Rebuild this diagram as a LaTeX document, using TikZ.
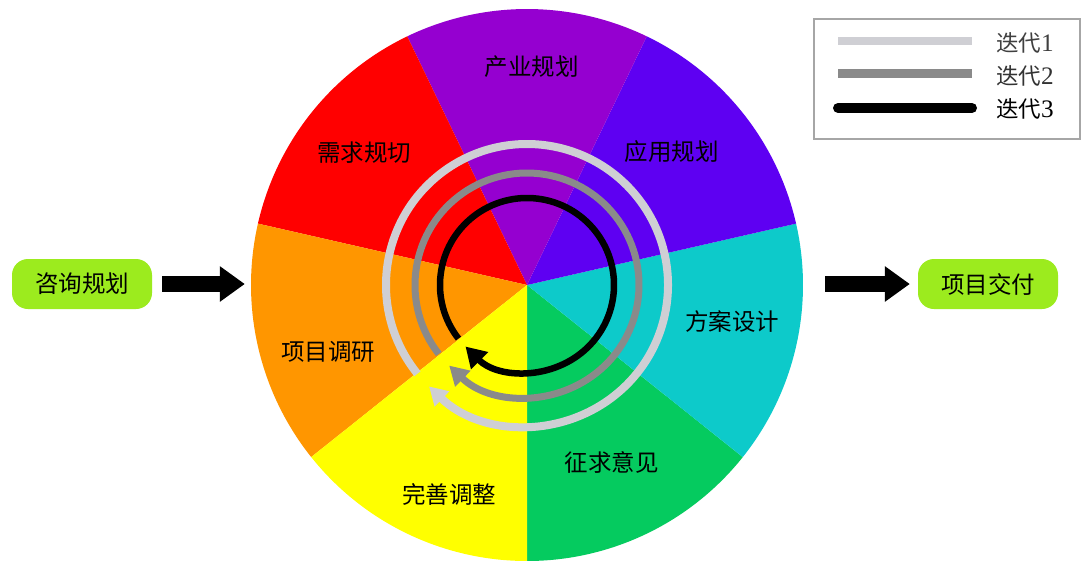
\documentclass[tikz,border=0pt]{standalone}
\usepackage{fontspec}
\setmainfont{Noto Sans CJK SC}
\newfontfamily\digitfont[Scale=1.12]{Liberation Serif}
\usetikzlibrary{arrows.meta}
\definecolor{cRed}{HTML}{FF0000}
\definecolor{cOrange}{HTML}{FF9600}
\definecolor{cYellow}{HTML}{FFFF00}
\definecolor{cGreen}{HTML}{05CB5F}
\definecolor{cCyan}{HTML}{0DCACA}
\definecolor{cViolet}{HTML}{5E00F2}
\definecolor{cPurple}{HTML}{9500D0}
\definecolor{cLime}{HTML}{9CEB1E}
\definecolor{ringLight}{HTML}{CFCFD4}
\definecolor{ringGray}{HTML}{8A8A8A}
\tikzset{
  lbl/.style={font=\fontsize{23.5}{26}\selectfont, inner sep=0pt, text=black},
  limebox/.style={fill=cLime, rounded corners=16pt, minimum width=140pt, minimum height=50pt, inner sep=0pt, font=\fontsize{23.5}{26}\selectfont},
  bigarrow/.style={line width=16pt, -{Triangle[length=25pt,width=34pt]}},
  legtext/.style={font=\fontsize{22.5}{25}\selectfont, anchor=west, inner sep=0pt},
}
\begin{document}
\begin{tikzpicture}[x=1pt,y=1pt]
\useasboundingbox (0,0) rectangle (1081,-560);
\fill[white] (0,0) rectangle (1081,-560);
\coordinate (c) at (527,-285);
\node[circle, minimum size=552pt, inner sep=0pt] (wheel) at (c) {};
% sectors (equal, 360/7)
\def\R{276}
\foreach \a/\col in {270/cGreen, 321.4286/cCyan, 12.8571/cViolet, 64.2857/cPurple, 115.7143/cRed, 167.1429/cOrange, 218.5714/cYellow}{
  \fill[\col] (c) -- ++(\a:\R) arc[start angle=\a, delta angle=51.4286, radius=\R] -- cycle;
}
% rings
\draw[ringLight, line width=8pt, -{Triangle[length=18pt,width=20pt]}]
  ([shift={(219:141)}]c) arc[start angle=219, end angle=-134, radius=141];
\draw[ringGray, line width=7pt, -{Triangle[length=19pt,width=21pt]}]
  ([shift={(218:112)}]c) arc[start angle=218, end angle=-134, radius=112];
\draw[black, line width=6.5pt, -{Triangle[length=20pt,width=23pt]}]
  ([shift={(218:87)}]c) arc[start angle=218, end angle=-135, radius=87];
% labels
\node[lbl] (s1) at (531.5,-67) {产业规划};
\node[lbl] (s2) at (671.5,-152) {应用规划};
\node[lbl] (s3) at (732,-322) {方案设计};
\node[lbl] (s4) at (611.5,-462) {征求意见};
\node[lbl] (s5) at (449,-494) {完善调整};
\node[lbl] (s6) at (328,-352) {项目调研};
\node[lbl] (s7) at (364,-153) {需求规切};
% side boxes
\node[limebox] (start) at (82,-284) {咨询规划};
\node[limebox] (finish) at (988,-284) {项目交付};
\draw[bigarrow] ([xshift=10pt]start.east) -- ([xshift=-6pt]wheel.west |- start.east);
\draw[bigarrow] ([xshift=22pt]wheel.east |- finish.west) -- ([xshift=-8pt]finish.west);
% legend
\node[draw=gray!70, line width=1.5pt, minimum width=266pt, minimum height=120pt, inner sep=0pt, anchor=north west] (legend) at (813,-18) {};
\coordinate (l1a) at (838,-41);
\coordinate (l1b) at (972,-41);
\coordinate (l2a) at (838,-73);
\coordinate (l2b) at (972,-73);
\coordinate (l3a) at (838,-108);
\coordinate (l3b) at (972,-108);
\draw[ringLight, line width=8pt] (l1a) -- (l1b);
\draw[ringGray, line width=9pt] (l2a) -- (l2b);
\draw[black, line width=10pt, line cap=round] (l3a) -- (l3b);
\node[legtext, text=black!75] (t1) at (996,-43) {迭代{\digitfont 1}};
\node[legtext, text=black!80] (t2) at (996,-76) {迭代{\digitfont 2}};
\node[legtext, text=black] (t3) at (996,-109) {迭代{\digitfont 3}};
\end{tikzpicture}
\end{document}
